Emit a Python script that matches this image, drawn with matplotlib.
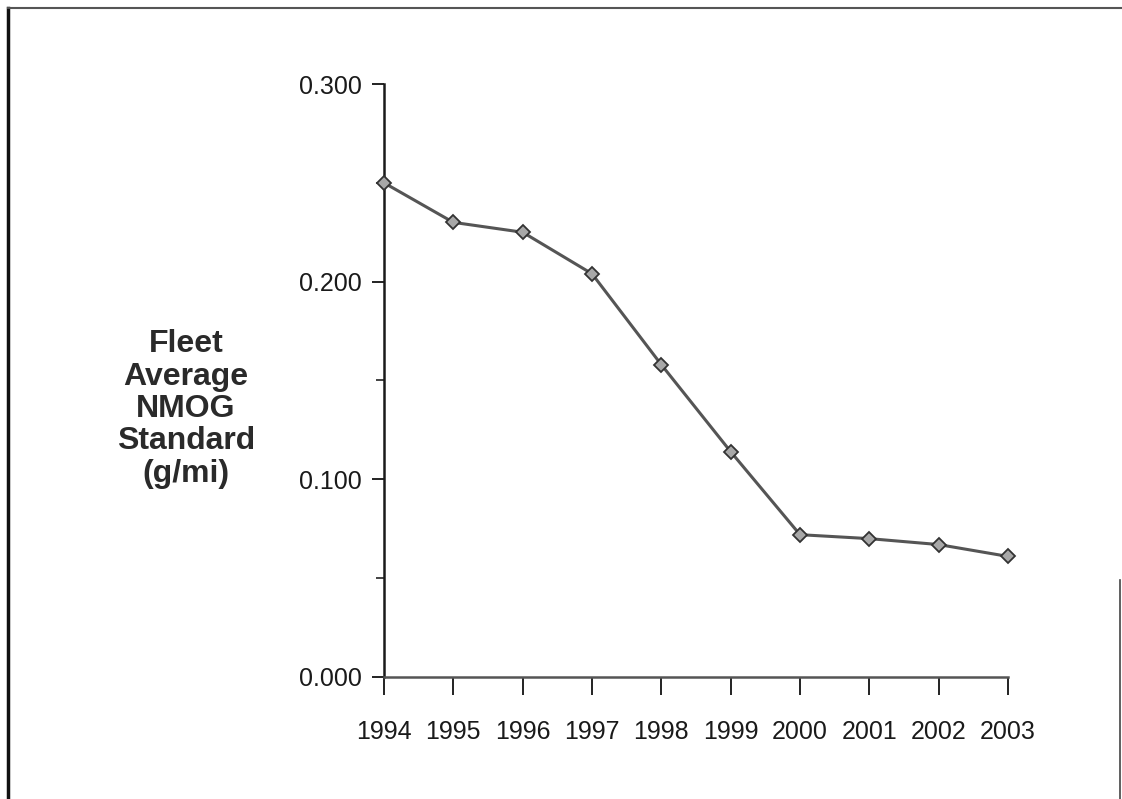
import matplotlib
matplotlib.use("Agg")
import matplotlib.pyplot as plt
from matplotlib.lines import Line2D
from matplotlib.ticker import MultipleLocator, FormatStrFormatter

years = [1994, 1995, 1996, 1997, 1998, 1999, 2000, 2001, 2002, 2003]
nmog = [0.250, 0.230, 0.225, 0.204, 0.158, 0.114, 0.072, 0.070, 0.067, 0.061]
y_ticks = [0.000, 0.100, 0.200, 0.300]
y_label = "Fleet\nAverage\nNMOG\nStandard\n(g/mi)"

W, H = 1122, 799
fig = plt.figure(figsize=(W / 100, H / 100), dpi=100)
fig.patch.set_facecolor("white")

L, R, B, T = 384, 1008, 677, 84
ax = fig.add_axes([L / W, 1 - B / H, (R - L) / W, (B - T) / H])

ax.plot(years, nmog, color="#555555", lw=2.2, marker="D", ms=7.5,
        mfc="#a8a8a8", mec="#333333", mew=1.3, clip_on=False, zorder=3)

ax.set_xlim(years[0], years[-1])
ax.set_ylim(y_ticks[0], y_ticks[-1])
ax.set_xticks(years)
ax.set_yticks(y_ticks)
ax.yaxis.set_minor_locator(MultipleLocator(0.05))
ax.yaxis.set_major_formatter(FormatStrFormatter("%.3f"))

for s in ["top", "right"]:
    ax.spines[s].set_visible(False)
ax.spines["left"].set_color("#1a1a1a")
ax.spines["left"].set_linewidth(1.8)
ax.spines["bottom"].set_color("#555555")
ax.spines["bottom"].set_linewidth(1.8)

tick_font = ["Liberation Sans", "DejaVu Sans"]
ax.tick_params(axis="x", direction="out", length=13, width=1.4, color="#222222",
               pad=18, labelsize=18)
ax.tick_params(axis="y", which="major", direction="out", length=9, width=1.4,
               color="#222222", pad=7, labelsize=18)
ax.tick_params(axis="y", which="minor", direction="out", length=6, width=1.2,
               color="#222222")
for lab in ax.get_xticklabels() + ax.get_yticklabels():
    lab.set_family(tick_font)
    lab.set_color("#1a1a1a")

fig.text(186 / W, 1 - 409 / H, y_label, ha="center", va="center",
         multialignment="center", fontsize=23, fontweight="bold",
         family=["Liberation Sans", "DejaVu Sans"], color="#2a2a2a",
         linespacing=1.1)

# page border (scanned frame)
fig.add_artist(Line2D([8 / W, 8 / W], [0, 1 - 8 / H], transform=fig.transFigure,
                      color="#111111", lw=2.5))
fig.add_artist(Line2D([8 / W, 1], [1 - 8 / H, 1 - 8 / H], transform=fig.transFigure,
                      color="#555555", lw=1.5))
fig.add_artist(Line2D([1120 / W, 1120 / W], [0, 1 - 580 / H], transform=fig.transFigure,
                      color="#444444", lw=1.2))

fig.savefig("out.png", dpi=100, facecolor="white")
